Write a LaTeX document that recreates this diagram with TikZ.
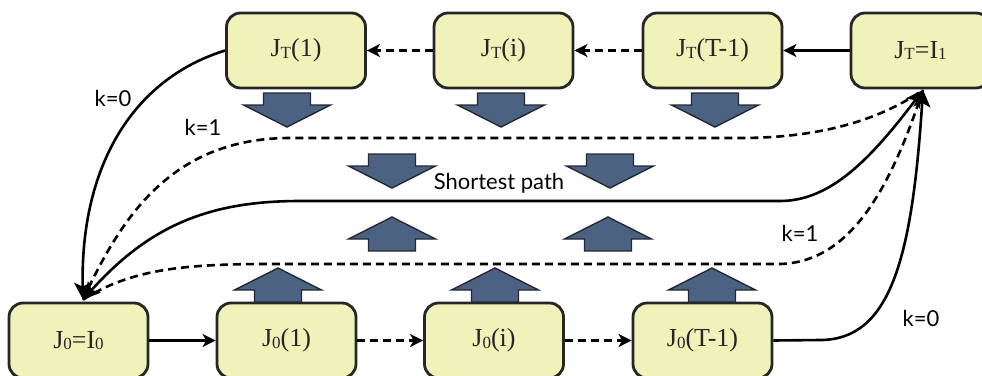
\documentclass[tikz,border=0pt]{standalone}
\usepackage{fontspec}
\usetikzlibrary{arrows.meta}
\newfontfamily\lblfont{Liberation Serif}
\newfontfamily\kfont{Lato}
\newcommand{\sm}[1]{\raisebox{-1.5pt}{\fontsize{17}{17}\selectfont #1}}
\definecolor{boxfill}{RGB}{241,242,186}
\definecolor{boxline}{RGB}{38,38,38}
\definecolor{blockfill}{RGB}{76,98,130}
\definecolor{blockline}{RGB}{35,40,50}
\tikzset{
  state/.style={draw=boxline, line width=2.8pt, fill=boxfill, rounded corners=14pt,
    minimum width=139pt, minimum height=75pt, inner sep=0pt,
    font=\lblfont\fontsize{26}{29}\selectfont, text=black!85},
  conn/.style={line width=2.6pt, draw=black},
  dashline/.style={conn, dash pattern=on 8pt off 5pt},
  tipS/.style={-{Stealth[length=13pt,width=13pt,inset=3.5pt]}},
  tipB/.style={-{Stealth[length=17pt,width=17pt,inset=4pt]}},
  klabel/.style={font=\kfont\fontsize{22}{24}\selectfont, inner sep=0pt},
  blockarrow/.style={fill=blockfill, draw=blockline, line width=1.4pt, line join=miter},
  blockdown/.pic={\draw[blockarrow] (-23.5,0) -- (23.5,0) -- (23.5,12) -- (43.5,12)
      -- (0,34) -- (-43.5,12) -- (-23.5,12) -- cycle;},
  blockup/.pic={\draw[blockarrow] (-23.5,0) -- (23.5,0) -- (23.5,-12) -- (43.5,-12)
      -- (0,-34) -- (-43.5,-12) -- (-23.5,-12) -- cycle;}
}
\begin{document}
\begin{tikzpicture}[x=1pt, y=-1pt]
\useasboundingbox (0,0) rectangle (982,375);

% upper row of states
\node[state] (jt1) at (296,50.5) {J\sm{T}(1)};
\node[state] (jti) at (503.5,50.5) {J\sm{T}(i)};
\node[state] (jtT) at (712.5,50.5) {J\sm{T}(T-1)};
\node[state] (i1)  at (920.5,50.5) {J\sm{T}=I\sm{1}};

% lower row of states
\node[state] (i0)  at (78.5,340.5) {J\sm{0}=I\sm{0}};
\node[state] (j01) at (286.5,340.5) {J\sm{0}(1)};
\node[state] (j0i) at (494,340.5) {J\sm{0}(i)};
\node[state] (j0T) at (702.5,340.5) {J\sm{0}(T-1)};

% block arrows
\pic (d1) at (287,93) {blockdown};
\pic (d2) at (501,93) {blockdown};
\pic (d3) at (715,93) {blockdown};
\pic (d4) at (392,154) {blockdown};
\pic (d5) at (610,154) {blockdown};
\pic (u1) at (392,251) {blockup};
\pic (u2) at (608,251) {blockup};
\pic (u3) at (278,302) {blockup};
\pic (u4) at (495,302) {blockup};
\pic (u5) at (712,302) {blockup};

% chain arrows along each row
\draw[conn, tipS] (i1.west) -- (jtT.east);
\draw[dashline, tipS] (jtT.west) -- (jti.east);
\draw[dashline, tipS] (jti.west) -- (jt1.east);
\draw[conn, tipS] (i0.east) -- (j01.west);
\draw[dashline, tipS] (j01.east) -- (j0i.west);
\draw[dashline, tipS] (j0i.east) -- (j0T.west);

% meeting points of the long connectors
\coordinate (a0) at ([xshift=4.5pt,yshift=2pt]i0.north);
\coordinate (a1) at ([xshift=2.5pt,yshift=-0.5pt]i1.south);

% k=0 paths
\draw[conn, tipB] (jt1.west) .. controls (130,80) and (80,170) .. (a0);
\draw[conn, tipB] (j0T.east) -- (820,340) .. controls (890,340) and (912,260) .. (a1);

% k=1 paths
\draw[dashline] (a0) .. controls (120,220) and (170,138) .. (290,138) -- (740,138)
  .. controls (820,138) and (880,120) .. (a1);
\draw[dashline] (a0) .. controls (130,270) and (180,264) .. (270,264) -- (780,264)
  .. controls (850,262) and (890,190) .. (a1);

% shortest path
\draw[conn, {Stealth[length=17pt,width=17pt,inset=4pt]}-{Stealth[length=17pt,width=17pt,inset=4pt]}]
  (a0) .. controls (150,225) and (210,201) .. (300,201) -- (780,201)
  .. controls (830,201) and (870,160) .. (a1);

% labels
\node[klabel] (lk0a) at (113,98) {k=0};
\node[klabel] (lk1a) at (203,127) {k=1};
\node[klabel] (lk1b) at (800,233) {k=1};
\node[klabel] (lk0b) at (921,318) {k=0};
\node[klabel] (lsp) at (499,183) {Shortest path};
\end{tikzpicture}
\end{document}
